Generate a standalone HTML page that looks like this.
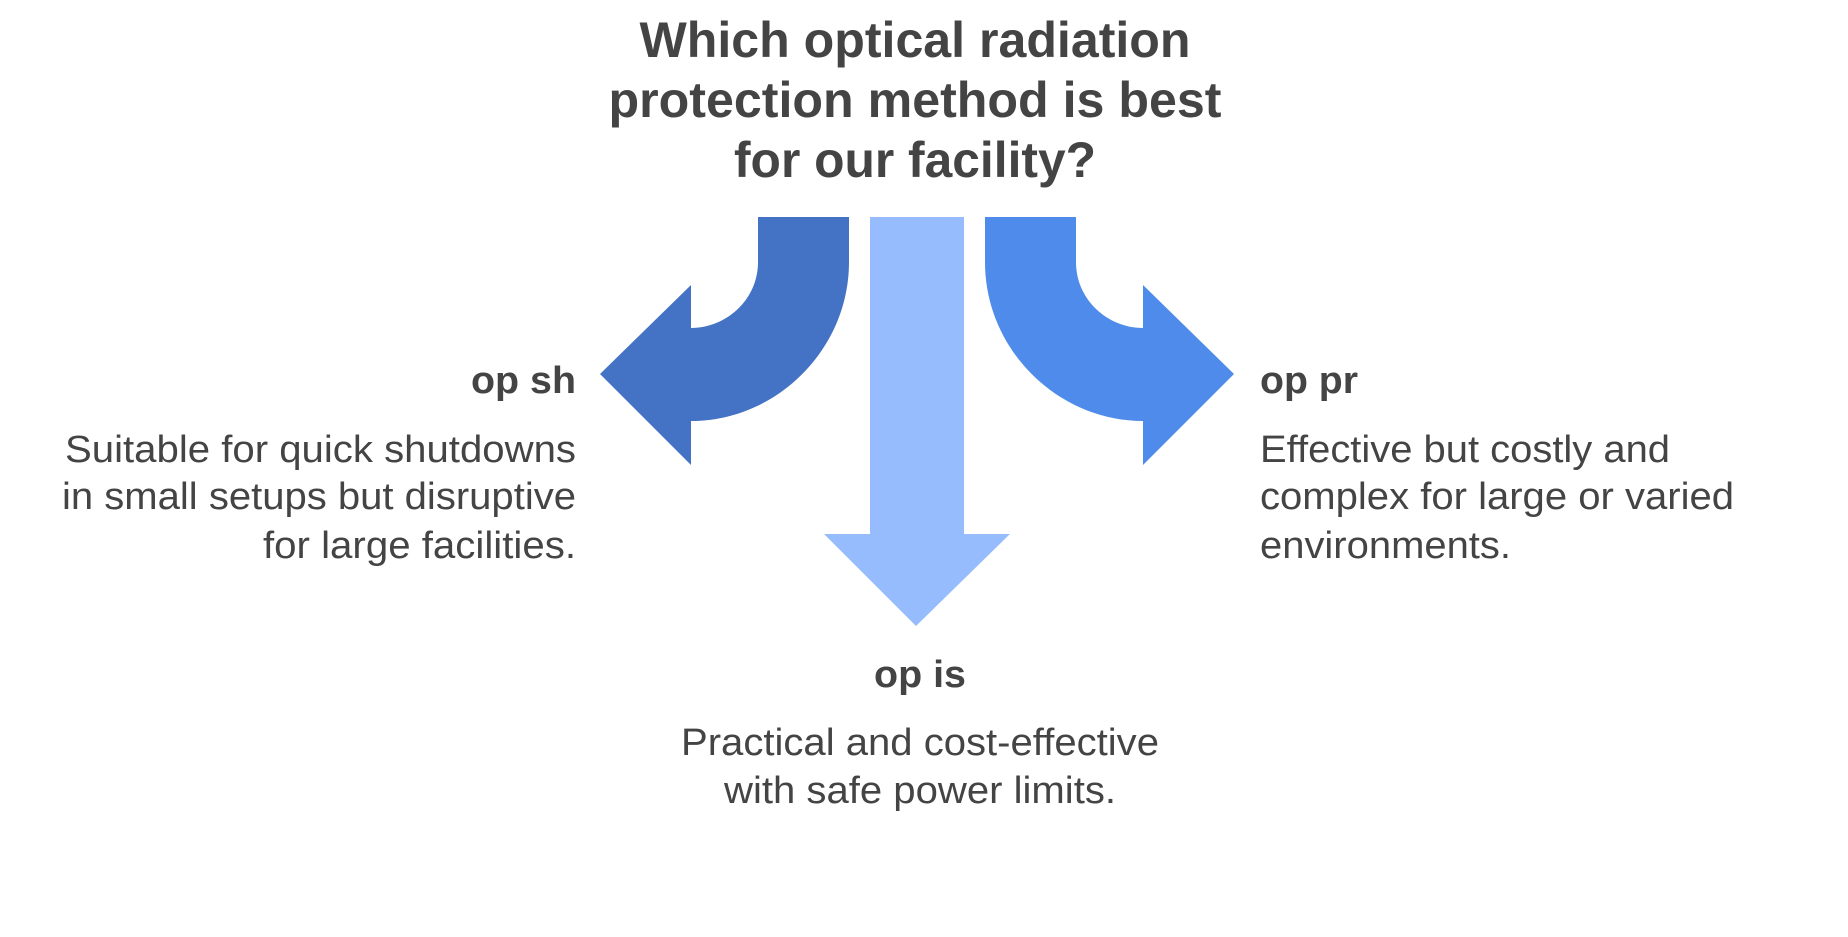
<!DOCTYPE html>
<html><head><meta charset="utf-8"><style>
html,body{margin:0;padding:0;background:#fff;width:1848px;height:937px;overflow:hidden}
svg text{font-family:"Liberation Sans",Arial,sans-serif;fill:#444}
</style></head><body>
<svg width="1848" height="937" viewBox="0 0 1848 937" xmlns="http://www.w3.org/2000/svg">
<g font-weight="bold" font-size="50" text-anchor="middle">
<text x="915" y="57" textLength="551" lengthAdjust="spacingAndGlyphs">Which optical radiation</text>
<text x="915" y="117" textLength="613" lengthAdjust="spacingAndGlyphs">protection method is best</text>
<text x="915" y="177" textLength="362" lengthAdjust="spacingAndGlyphs">for our facility?</text>
</g>
<g transform="translate(-4,0)">
<path d="M762 217 H853 V262 C853 350 780 421 695 421 V465 L604 374 L695 285 V328 C730 328 762 300 762 262 Z" fill="#4472C4"/>
<path d="M874 217 H968 V534 H1014 L920 626 L828 534 H874 Z" fill="#97BCFD"/>
<path d="M1080 217 H989 V262 C989 350 1062 421 1147 421 V465 L1238 374 L1147 285 V328 C1112 328 1080 300 1080 262 Z" fill="#4E8BEA"/>
</g>
<g font-size="38">
<text x="576" y="393" font-weight="bold" text-anchor="end" textLength="105" lengthAdjust="spacingAndGlyphs">op sh</text>
<text x="576" y="462" text-anchor="end" textLength="511" lengthAdjust="spacingAndGlyphs">Suitable for quick shutdowns</text>
<text x="576" y="509" text-anchor="end" textLength="514" lengthAdjust="spacingAndGlyphs">in small setups but disruptive</text>
<text x="576" y="558" text-anchor="end" textLength="313" lengthAdjust="spacingAndGlyphs">for large facilities.</text>
<text x="1260" y="393" font-weight="bold" textLength="98" lengthAdjust="spacingAndGlyphs">op pr</text>
<text x="1260" y="462" textLength="410" lengthAdjust="spacingAndGlyphs">Effective but costly and</text>
<text x="1260" y="509" textLength="474" lengthAdjust="spacingAndGlyphs">complex for large or varied</text>
<text x="1260" y="558" textLength="251" lengthAdjust="spacingAndGlyphs">environments.</text>
<text x="920" y="687" font-weight="bold" text-anchor="middle" textLength="92" lengthAdjust="spacingAndGlyphs">op is</text>
<text x="920" y="755" text-anchor="middle" textLength="478" lengthAdjust="spacingAndGlyphs">Practical and cost-effective</text>
<text x="920" y="803" text-anchor="middle" textLength="392" lengthAdjust="spacingAndGlyphs">with safe power limits.</text>
</g>
</svg>
</body></html>
